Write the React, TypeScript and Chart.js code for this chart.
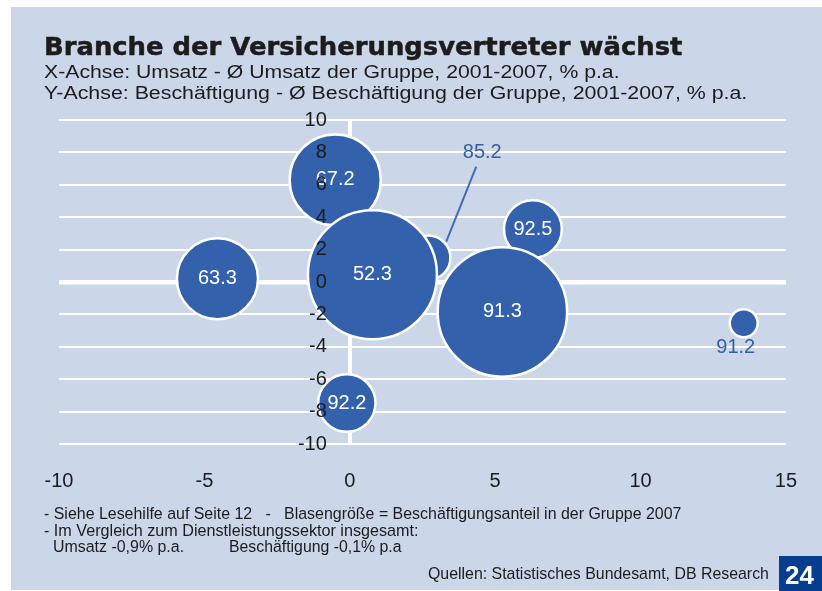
import React, { useEffect, useLayoutEffect, useRef } from "react";
import { Chart, registerables } from "chart.js";

Chart.register(...registerables);

// ---- data ----
const branchLabels = ["67.2", "85.2", "92.5", "63.3", "92.2", "91.2", "52.3", "91.3"];
const umsatzDiff = [-0.5, 2.7, 6.3, -4.55, -0.1, 13.55, 0.78, 5.25];
const beschDiff = [6.3, 1.5, 3.27, 0.2, -7.47, -2.55, 0.45, -1.85];
const anteil2007 = [14.4, 3.4, 5.8, 11.4, 5.7, 1.35, 28.9, 29.1];
const xTicks = [-10, -5, 0, 5, 10, 15];
const yTicks = [-10, -8, -6, -4, -2, 0, 2, 4, 6, 8, 10];

const W = 822;
const H = 591;
const BG = "#cbd7e9";
const BLUE = "#3461ab";
const INK = "#1c1c1c";
const SANS = "'Liberation Sans', Arial, Helvetica, sans-serif";

// callouts for labels drawn outside their bubble (pixel offsets from bubble centre)
const outside: Record<string, { dx: number; dy: number; line?: number[] }> = {
  "85.2": { dx: 54, dy: -105, line: [48, -91, 18, -16] },
  "91.2": { dx: -8, dy: 24 },
};

const labelPlugin = {
  id: "bubbleLabels",
  afterDatasetsDraw(chart: any) {
    const ctx = chart.ctx;
    const meta = chart.getDatasetMeta(0);
    ctx.save();
    ctx.font = `20px ${SANS}`;
    ctx.textAlign = "center";
    ctx.textBaseline = "middle";
    meta.data.forEach((el: any, i: number) => {
      const lab = branchLabels[i];
      const o = outside[lab];
      if (o) {
        if (o.line) {
          ctx.strokeStyle = "#3f6db3";
          ctx.lineWidth = 2;
          ctx.beginPath();
          ctx.moveTo(el.x + o.line[0], el.y + o.line[1]);
          ctx.lineTo(el.x + o.line[2], el.y + o.line[3]);
          ctx.stroke();
        }
        ctx.fillStyle = "#35609f";
        ctx.fillText(lab, el.x + o.dx, el.y + o.dy);
      } else {
        ctx.fillStyle = "#ffffff";
        ctx.fillText(lab, el.x, el.y);
      }
    });
    ctx.restore();
  },
};

// text placed by baseline; "stretch" scales horizontally, otherwise the font size is fitted to the width
function Txt(props: {
  x: number;
  base: number;
  size: number;
  width?: number;
  stretch?: boolean;
  bold?: boolean;
  family?: string;
  color?: string;
  stroke?: string;
  text: string;
}) {
  const ref = useRef<HTMLSpanElement>(null);
  useLayoutEffect(() => {
    const el = ref.current;
    if (!el || !props.width) return;
    el.style.transform = "none";
    el.style.fontSize = props.size + "px";
    el.style.lineHeight = props.size + "px";
    el.style.top = props.base - 0.846 * props.size + "px";
    const w = el.offsetWidth;
    if (w <= 0) return;
    if (props.stretch) {
      el.style.transform = `scaleX(${props.width / w})`;
    } else {
      const s = (props.size * props.width) / w;
      el.style.fontSize = s + "px";
      el.style.lineHeight = s + "px";
      el.style.top = props.base - 0.846 * s + "px";
    }
  });
  return (
    <span
      ref={ref}
      style={{
        position: "absolute",
        left: props.x,
        top: props.base - 0.846 * props.size,
        fontSize: props.size,
        lineHeight: `${props.size}px`,
        fontFamily: props.family || SANS,
        fontWeight: props.bold ? 700 : 400,
        color: props.color || INK,
        whiteSpace: "pre",
        transformOrigin: "left top",
        WebkitTextStroke: props.stroke,
      }}
    >
      {props.text}
    </span>
  );
}

export default function App() {
  const canvasRef = useRef<HTMLCanvasElement>(null);

  useEffect(() => {
    const canvas = canvasRef.current;
    if (!canvas) return;
    const data = branchLabels.map((_, i) => ({
      x: umsatzDiff[i],
      y: beschDiff[i],
      r: 12 * Math.sqrt(anteil2007[i]),
    }));
    const chart = new Chart(canvas, {
      type: "bubble",
      data: {
        datasets: [
          {
            data,
            backgroundColor: BLUE,
            borderColor: "#ffffff",
            borderWidth: 2.5,
            hoverBorderWidth: 2.5,
            clip: false as any,
          },
        ],
      },
      options: {
        animation: false,
        responsive: false,
        devicePixelRatio: 1,
        events: [],
        layout: { autoPadding: false, padding: { left: 59, right: W - 789, top: 120, bottom: 0 } },
        plugins: { legend: { display: false }, title: { display: false }, tooltip: { enabled: false } },
        scales: {
          x: {
            type: "linear",
            min: -10,
            max: 15,
            afterBuildTicks: (s: any) => {
              s.ticks = xTicks.map((v) => ({ value: v }));
            },
            afterFit: (s: any) => {
              s.height = H - 444;
            },
            border: { display: false },
            grid: {
              drawTicks: false,
              color: (c: any) => (c.tick && c.tick.value === 0 ? "#ffffff" : "rgba(0,0,0,0)"),
              lineWidth: (c: any) => (c.tick && c.tick.value === 0 ? 4 : 0),
            },
            ticks: {
              padding: 25,
              color: INK,
              font: { family: SANS, size: 20 },
              maxRotation: 0,
              callback: (v: any) => String(v),
            },
          },
          y: {
            type: "linear",
            min: -10,
            max: 10,
            position: { x: -0.79 } as any,
            afterBuildTicks: (s: any) => {
              s.ticks = yTicks.map((v) => ({ value: v }));
            },
            border: { display: false },
            grid: {
              drawTicks: false,
              color: "#ffffff",
              lineWidth: (c: any) => (c.tick && c.tick.value === 0 ? 4.5 : 2),
            },
            ticks: {
              padding: 0,
              z: 1,
              color: INK,
              font: { family: SANS, size: 20 },
              callback: (v: any) => String(v),
            },
          },
        },
      },
      plugins: [labelPlugin],
    });
    return () => chart.destroy();
  }, []);

  return (
    <div
      style={{
        position: "fixed",
        left: 0,
        top: 0,
        width: W,
        height: H,
        background: "#ffffff",
        overflow: "hidden",
      }}
    >
      <div style={{ position: "absolute", left: 11, top: 7, width: W - 11, height: 583, background: BG }} />
      <canvas ref={canvasRef} width={W} height={H} style={{ position: "absolute", left: 0, top: 0, display: "block" }} />
      <Txt x={44} base={55} size={25} bold stretch stroke="0.5px #1c1c1c" family="'DejaVu Sans', Arial, sans-serif" width={638} text="Branche der Versicherungsvertreter wächst" />
      <Txt x={44} base={78.5} size={17.5} stretch width={576} text="X-Achse: Umsatz - Ø Umsatz der Gruppe, 2001-2007, % p.a." />
      <Txt x={44} base={99.5} size={17.5} stretch width={703} text="Y-Achse: Beschäftigung - Ø Beschäftigung der Gruppe, 2001-2007, % p.a." />
      <Txt x={44} base={519} size={14} width={638} text="- Siehe Lesehilfe auf Seite 12   -   Blasengröße = Beschäftigungsanteil in der Gruppe 2007" />
      <Txt x={44} base={535.5} size={14} width={374} text="- Im Vergleich zum Dienstleistungssektor insgesamt:" />
      <Txt x={53} base={552} size={14} width={131} text="Umsatz -0,9% p.a." />
      <Txt x={229} base={552} size={14} width={173} text="Beschäftigung -0,1% p.a" />
      <Txt x={428} base={579} size={16} width={341} text="Quellen: Statistisches Bundesamt, DB Research" />
      <div style={{ position: "absolute", left: 779, top: 556, width: 43, height: 35, background: "#073d8f" }} />
      <Txt x={785} base={584} size={25} bold stretch color="#ffffff" width={29} text="24" />
    </div>
  );
}
